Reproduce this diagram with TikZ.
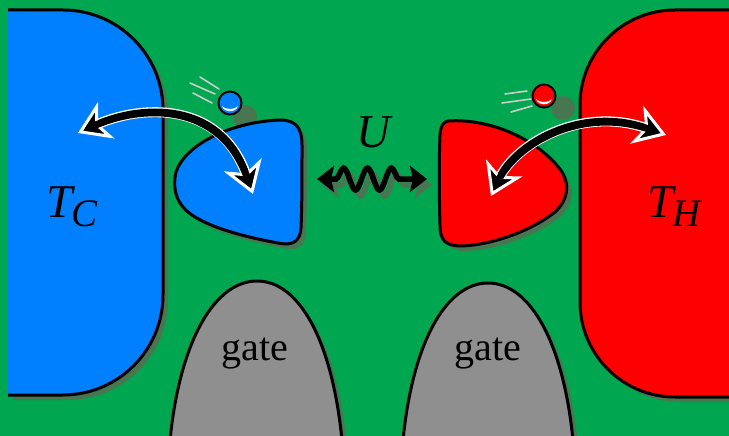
\documentclass[tikz,border=0pt]{standalone}
\usepackage{fontspec}
\setmainfont{Liberation Serif}
\usetikzlibrary{arrows.meta,decorations.pathmorphing,shadows}
\definecolor{board}{HTML}{00A650}
\definecolor{cold}{HTML}{0080FF}
\definecolor{hot}{HTML}{FF0000}
\definecolor{gatec}{HTML}{8F8F8F}
\definecolor{dusk}{RGB}{72,118,80}
\definecolor{streak}{RGB}{205,205,205}

% bath label: big italic letter with a large lowered index
\newcommand{\bathlabel}[2]{\fontsize{47}{47}\selectfont\itshape #1\kern-1pt\raisebox{-9pt}{\fontsize{39}{39}\selectfont #2}}

\tikzset{
  outline/.style={draw=black, line width=3pt},
  shadowed/.style={drop shadow={shadow xshift=5pt, shadow yshift=-5pt, fill=dusk, opacity=1}},
  bigit/.style={font=\fontsize{47}{47}\selectfont\itshape},
  gatetext/.style={font=\fontsize{40}{40}\selectfont, anchor=base},
  heatflow/.style={line width=7pt,
    {Stealth[length=31pt,width=40pt,inset=9pt,color=white,fill=black,line width=3pt]}-{Stealth[length=31pt,width=40pt,inset=9pt,color=white,fill=black,line width=3pt]},
    preaction={draw=white, line width=10pt, -, shorten <=20pt, shorten >=20pt},
    postaction={draw=black, line width=7pt, -, shorten <=16pt, shorten >=16pt}},
  coupling/.style={line width=5.5pt,
    {Stealth[length=17pt,width=26pt,inset=3pt]}-{Stealth[length=17pt,width=26pt,inset=3pt]},
    decorate, decoration={snake, segment length=24pt, amplitude=11pt, pre length=19pt, post length=19pt}},
  speed/.style={draw=streak, line width=1.6pt, line cap=round},
}

\begin{document}
\begin{tikzpicture}[x=1pt, y=-1pt]
\useasboundingbox (0,0) rectangle (729,436);
\clip (0,0) rectangle (729,436);
\fill[board] (0,0) rectangle (729,436);

% the two baths
\filldraw[outline, shadowed, fill=cold, rounded corners=100pt] (8,10) -- (163,10) -- (163,395) -- (8,395);
\filldraw[outline, shadowed, fill=hot, rounded corners=95pt] (740,10) -- (580,10) -- (580,397) -- (740,397);

% gates
\filldraw[outline, shadowed, fill=gatec] (170,440) .. controls (180,340) and (215,281) .. (257,281) .. controls (299,281) and (332,340) .. (342,440);
\filldraw[outline, shadowed, fill=gatec] (403,440) .. controls (413,340) and (447,283) .. (488,283) .. controls (529,283) and (563,340) .. (573,440);

% electrons and their shadows
\coordinate (eL) at (230,103);
\coordinate (eR) at (544,96);
\fill[dusk] (245,117) circle (12pt);
\fill[dusk] (563,108) circle (12pt);

% quantum dots
\filldraw[outline, shadowed, fill=cold] (176,172) .. controls (185,145) and (230,122) .. (280,120)
  .. controls (296,120) and (302,128) .. (302,145)
  .. controls (302,180) and (302,205) .. (301,228)
  .. controls (300,242) and (292,246) .. (278,243)
  .. controls (240,236) and (205,226) .. (188,212)
  .. controls (174,200) and (173,185) .. (176,172) -- cycle;
\filldraw[outline, shadowed, fill=hot] (448,121) .. controls (490,118) and (540,140) .. (562,172)
  .. controls (570,185) and (568,200) .. (555,212)
  .. controls (530,232) and (490,245) .. (462,246)
  .. controls (445,246) and (440,240) .. (440,225)
  .. controls (439,190) and (439,160) .. (440,135)
  .. controls (441,124) and (444,122) .. (448,121) -- cycle;

% coupling between the dots
\coordinate (wl) at (317,179);
\coordinate (wr) at (427,179);
\draw[coupling, color=dusk, transform canvas={shift={(5pt,-6pt)}}] (wl) -- (wr);
\draw[coupling] (wl) -- (wr);
\node[bigit] (u) at (373,132) {U};

% tunnelling to the baths
\coordinate (cold) at (78,133);
\coordinate (dotl) at (253,194);
\coordinate (dotr) at (491,196);
\coordinate (hot) at (666,135);
\draw[heatflow] (cold) .. controls (140,105) and (220,100) .. (dotl);
\draw[heatflow] (dotr) .. controls (515,145) and (580,105) .. (hot);

% moving electrons
\draw[speed] (200,77) -- (219,89);
\draw[speed] (190,83) -- (215,94);
\draw[speed] (193,93) -- (212,103);
\filldraw[fill=cold, line width=2pt] (eL) circle (11.5pt);
\begin{scope}[shift={(230,103)}]
\fill[white] (-8,3) .. controls (-6,10) and (6,10) .. (8,3) .. controls (5,7) and (-5,7) .. cycle;
\end{scope}
\draw[speed] (505,94) -- (527,91);
\draw[speed] (502,103) -- (531,99);
\draw[speed] (511,112) -- (532,106);
\filldraw[fill=hot, line width=2pt] (eR) circle (11.5pt);
\begin{scope}[shift={(544,96)}]
\fill[white] (-8,3) .. controls (-6,10) and (6,10) .. (8,3) .. controls (5,7) and (-5,7) .. cycle;
\end{scope}

% labels
\node (tc) at (72,207) {\bathlabel{T}{C}};
\node (th) at (674,207) {\bathlabel{T}{H}};
\node[gatetext] (gatel) at (255,360) {gate};
\node[gatetext] (gater) at (488,360) {gate};
\end{tikzpicture}
\end{document}
